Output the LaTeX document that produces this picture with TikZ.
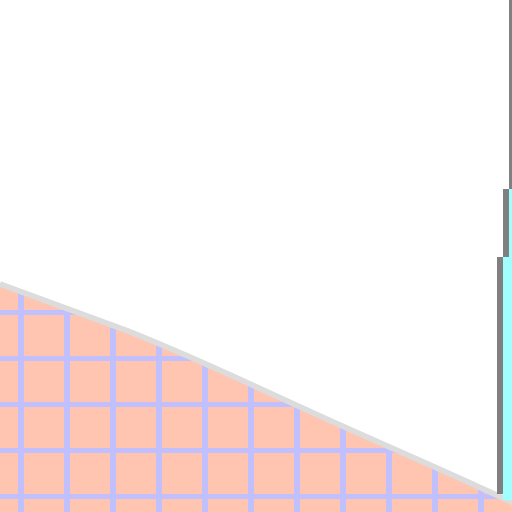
\documentclass[tikz,border=0pt]{standalone}
\definecolor{fillpink}{RGB}{255,197,177}
\definecolor{gridblue}{RGB}{192,192,255}
\definecolor{edgegray}{RGB}{220,220,220}
\definecolor{bargray}{RGB}{128,128,128}
\definecolor{barcyan}{RGB}{160,255,255}
\tikzset{
  gridline/.style={draw=gridblue,line width=5.5pt},
  edgeline/.style={draw=edgegray,line width=5.5pt},
}
\begin{document}
\begin{tikzpicture}[x=1pt,y=-1pt]
\useasboundingbox (0,0) rectangle (512,512);
\fill[white] (0,0) rectangle (512,512);
\def\boundary{(0,284) .. controls (30,295) and (60,306) .. (128,331) .. controls (200,360) and (256,387) .. (320,416) .. controls (384,445) and (450,473) .. (520,506)}
\begin{scope}
  \clip \boundary -- (520,520) -- (-5,520) -- cycle;
  \fill[fillpink] (0,250) rectangle (512,512);
  \foreach \x in {21,67,113,159,205,251,297,343,389,435,481}
    \draw[gridline] (\x,250) -- (\x,512);
  \foreach \y in {312.5,358.5,404.5,450.5,496.5}
    \draw[gridline] (0,\y) -- (512,\y);
\end{scope}
\draw[edgeline] \boundary;
% right-hand bars
\fill[barcyan] (509,189) rectangle (512,500);
\fill[barcyan] (503,257) rectangle (509,500);
\fill[bargray] (509,0) rectangle (512,189);
\fill[bargray] (503,189) rectangle (509,257);
\fill[bargray] (497,257) rectangle (503,494);
\end{tikzpicture}
\end{document}
